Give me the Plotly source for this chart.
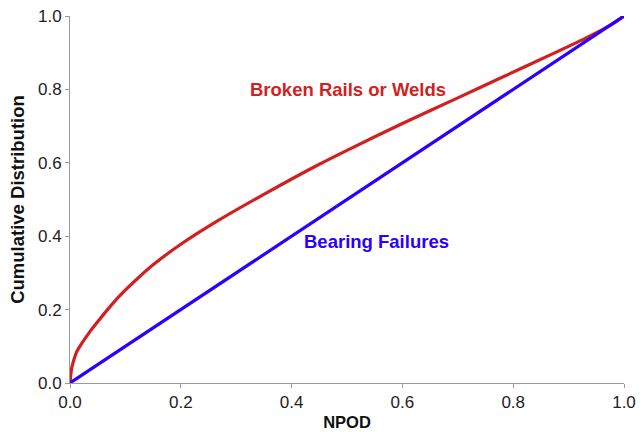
import plotly.graph_objects as go

npod_red = [0, 0.003, 0.008, 0.012, 0.02, 0.035, 0.05, 0.07, 0.09, 0.12, 0.15, 0.2, 0.27, 0.35, 0.45, 0.5, 0.6, 0.7, 0.78, 0.87, 0.93, 0.96, 0.98, 1.0]
cdf_red = [0, 0.04, 0.068, 0.085, 0.105, 0.138, 0.167, 0.204, 0.238, 0.282, 0.322, 0.378, 0.445, 0.514, 0.596, 0.634, 0.707, 0.777, 0.833, 0.896, 0.939, 0.962, 0.979, 1.0]

npod_blue = [0.0, 1.0]
cdf_blue = [0.0, 1.0]

red = "#d21f1f"
blue = "#2a00ff"
FONT = "Liberation Sans, Arial, sans-serif"

fig = go.Figure()
fig.add_trace(go.Scatter(x=npod_red, y=cdf_red, mode="lines",
                         line=dict(color=red, width=3.2, shape="spline", smoothing=0.8),
                         cliponaxis=False, showlegend=False))
fig.add_trace(go.Scatter(x=npod_blue, y=cdf_blue, mode="lines",
                         line=dict(color=blue, width=3.2),
                         cliponaxis=False, showlegend=False))

fig.add_annotation(x=0.502, y=0.80, text="<b>Broken Rails or Welds</b>", showarrow=False,
                   font=dict(family=FONT, size=18.5, color=red))
fig.add_annotation(x=0.554, y=0.386, text="<b>Bearing Failures</b>", showarrow=False,
                   font=dict(family=FONT, size=18.5, color=blue))

axis_common = dict(range=[0, 1], tickvals=[0, 0.2, 0.4, 0.6, 0.8, 1.0], tickformat=".1f",
                   showgrid=False, zeroline=False, showline=True, linecolor="#9a9a9a", linewidth=1,
                   ticks="outside", ticklen=4, tickcolor="#9a9a9a", automargin=False,
                   tickfont=dict(family=FONT, size=17, color="#222222"))

fig.update_xaxes(**axis_common,
                 title=dict(text="<b>NPOD</b>", font=dict(family=FONT, size=16.5, color="#111111"), standoff=5))
fig.update_yaxes(**axis_common,
                 title=dict(text="<b>Cumulative Distribution</b>", font=dict(family=FONT, size=18.5, color="#111111"), standoff=8))

fig.update_layout(width=641, height=435, plot_bgcolor="white", paper_bgcolor="white",
                  margin=dict(l=70, r=17, t=16, b=52))

fig.write_html("out.html", config={"displayModeBar": False},
               post_script="document.body.style.margin='0';document.body.style.overflow='hidden';")
